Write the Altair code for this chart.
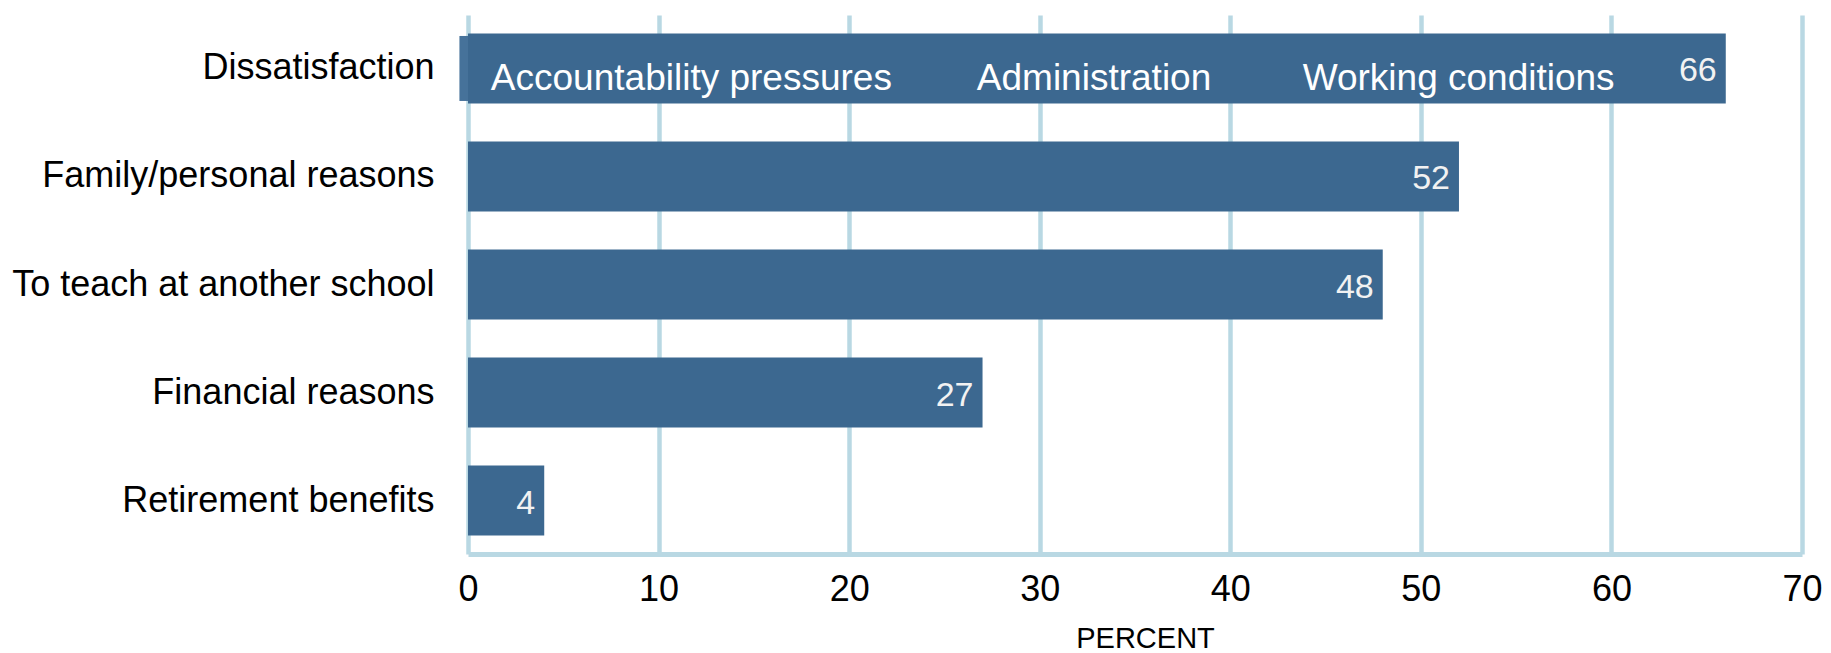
import altair as alt
import pandas as pd

categories = [
    "Dissatisfaction",
    "Family/personal reasons",
    "To teach at another school",
    "Financial reasons",
    "Retirement benefits",
]
values = [66, 52, 48, 27, 4]

sub_labels = ["Accountability pressures", "Administration", "Working conditions"]
sub_label_x = [1.2, 26.7, 43.8]

sliver_category = ["Dissatisfaction"]
sliver_start = [-0.45]
sliver_end = [0]

tick_values = [0, 10, 20, 30, 40, 50, 60, 70]

df = pd.DataFrame({"category": categories, "value": values})
sub_df = pd.DataFrame({"category": ["Dissatisfaction"] * len(sub_labels),
                       "label": sub_labels, "x": sub_label_x})
sl_df = pd.DataFrame({"category": sliver_category, "x": sliver_start, "x2": sliver_end})

GRID = "#b9d8e3"
BAR = "#3c6890"
FONT = "Liberation Sans"

y_scale = alt.Scale(domain=categories, paddingInner=0.352, paddingOuter=0.171, align=0.5)
y_axis = alt.Axis(title=None, domain=False, ticks=False, grid=False,
                  labelFont=FONT, labelFontSize=36, labelColor="#000000",
                  labelPadding=34, labelLimit=700)
x_scale = alt.Scale(domain=[0, 70], nice=False, zero=True)
x_axis = alt.Axis(values=tick_values, grid=True, gridColor=GRID, gridWidth=4.5,
                  domain=True, domainColor=GRID, domainWidth=5, ticks=False,
                  labelFont=FONT, labelFontSize=36, labelColor="#000000",
                  labelFlush=False, labelPadding=18, title="PERCENT", titleFont=FONT,
                  titleFontSize=29, titleFontWeight="normal", titleColor="#000000",
                  titleX=677, titleY=84, titleBaseline="middle")

Y = alt.Y("category:N", scale=y_scale, axis=y_axis, sort=categories)

bars = alt.Chart(df).mark_bar(color=BAR).encode(
    x=alt.X("value:Q", scale=x_scale, axis=x_axis),
    y=Y,
)

sliver = alt.Chart(sl_df).mark_bar(color="#46729a", size=65).encode(
    x=alt.X("x:Q", scale=x_scale),
    x2="x2:Q",
    y=alt.Y("category:N", scale=y_scale, sort=categories),
)

value_text = alt.Chart(df).mark_text(
    align="right", baseline="alphabetic", dx=-9, dy=13,
    font=FONT, fontSize=34, color="#f2f2f2"
).encode(
    x=alt.X("value:Q", scale=x_scale),
    y=alt.Y("category:N", scale=y_scale, sort=categories),
    text="value:Q",
)

sub_text = alt.Chart(sub_df).mark_text(
    align="left", baseline="alphabetic", dy=22,
    font=FONT, fontSize=37, color="#ffffff"
).encode(
    x=alt.X("x:Q", scale=x_scale),
    y=alt.Y("category:N", scale=y_scale, sort=categories),
    text="label:N",
)

chart = alt.layer(sliver, bars, value_text, sub_text).properties(
    width=1334,
    height=539,
    autosize=alt.AutoSizeParams(type="none"),
    padding={"left": 460, "top": 7, "right": 21, "bottom": 99},
    background="white",
).configure(font=FONT).configure_view(stroke=None)

chart.save("out.html", embed_options={"renderer": "svg", "actions": False})
